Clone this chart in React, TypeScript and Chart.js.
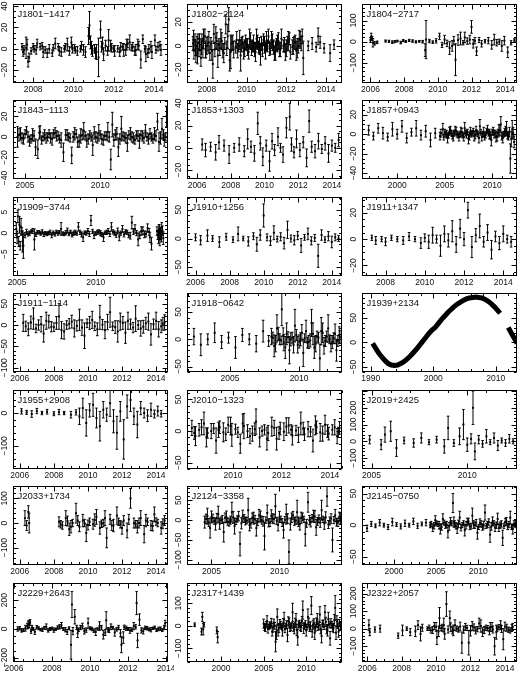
import { useEffect, useRef } from "react";
import { Chart, registerables } from "chart.js";
Chart.register(...registerables);

// ---------------- data (year, residual, error) ----------------
const J1801_t = [2007.45,2007.55,2007.65,2007.75,2007.8,2007.9,2008.05,2008.2,2008.35,2008.5,2008.6,2008.8,2008.95,2009.1,2009.25,2009.4,2009.55,2009.7,2009.8,2009.9,2010.05,2010.2,2010.35,2010.5,2010.75,2010.8,2010.85,2010.95,2011.05,2011.15,2011.25,2011.35,2011.4,2011.5,2011.6,2011.75,2011.9,2012.05,2012.2,2012.35,2012.5,2012.65,2012.8,2012.95,2013.1,2013.25,2013.35,2013.45,2013.6,2013.75,2013.9,2014.05,2014.2,2014.35];
const J1801_r = [2,-1,1,-12,-8,-2,0,5,2,-3,-1,0,-4,5,2,-3,0,4,-2,6,1,-2,0,-1,12,22,6,-2,0,-3,-8,18,2,-5,3,8,1,-2,0,2,-1,4,6,2,-1,3,-10,9,-5,0,-3,8,2,-1];
const J1801_e = [3,4,10,5,4,3,3,4,3,5,3,4,3,5,3,4,3,6,4,5,3,4,3,5,8,13,6,5,4,7,18,8,5,6,5,10,4,5,3,4,6,5,7,4,5,4,8,4,7,4,6,5,4,5];
const J1801x_t = [2007.5,2007.7,2008.0,2008.15,2008.45,2008.7,2009.0,2009.3,2009.6,2009.95,2010.1,2010.4,2010.6,2010.9,2011.1,2011.45,2011.7,2011.85,2012.0,2012.3,2012.45,2012.6,2012.7,2012.9,2013.05,2013.2,2013.55,2013.7,2013.85,2014.1,2014.3];
const J1801x_r = [-3,4,2,-1,3,-4,1,-2,2,0,-1,3,-3,1,-4,5,-2,3,0,-3,2,-1,5,1,-2,4,0,-4,2,-1,3];
const J1801x_e = [4,5,3,4,3,4,3,4,3,4,3,4,5,6,5,6,4,5,3,4,3,5,4,3,4,5,3,4,5,3,4];

const J1802_t = [2007.3,2007.35,2007.4,2007.45,2007.5,2007.55,2007.6,2007.65,2007.7,2007.75,2007.8,2007.9,2007.95,2008.0,2008.1,2008.15,2008.2,2008.3,2008.35,2008.4,2008.5,2008.55,2008.6,2008.7,2008.8,2008.9,2008.95,2009.0,2009.05,2009.1,2009.15,2009.2,2009.3,2009.45,2009.5,2009.55,2009.6,2009.7,2009.8,2009.9,2010.0,2010.1,2010.2,2010.3,2010.4,2010.5,2010.6,2010.7,2010.75,2010.85,2010.95,2011.05,2011.1,2011.2,2011.3,2011.4,2011.5,2011.6,2011.7,2011.85,2011.95,2012.05,2012.15,2012.3,2012.4,2012.5,2012.6,2012.7,2012.8,2012.85,2013.1,2013.3,2013.5,2013.6,2013.7,2013.9,2014.2,2014.4];
const J1802_r = [2,-4,5,-8,0,6,-3,1,-10,4,-2,8,-5,0,3,-6,2,-15,10,-3,4,-8,1,6,-4,2,18,-2,8,22,-12,-5,3,-1,5,-4,0,-8,3,-2,1,-5,4,0,-3,6,-1,-7,2,5,-4,0,8,-2,3,-6,1,4,-3,0,-5,2,6,-1,3,-4,0,5,8,-10,0,2,-1,8,3,-2,-6,1];
const J1802_e = [6,7,5,6,8,4,6,5,7,6,8,6,5,7,9,6,5,12,8,6,7,10,5,8,6,5,8,6,10,10,9,14,6,5,7,6,5,13,5,7,5,6,7,5,6,8,5,9,6,5,7,5,6,5,7,6,5,7,6,5,7,6,5,6,5,8,6,7,6,14,4,5,4,7,5,4,7,4];
const J1802x_t = [2007.33,2007.43,2007.53,2007.63,2007.73,2007.83,2007.93,2008.05,2008.25,2008.45,2008.65,2008.75,2008.85,2009.25,2009.35,2009.65,2009.75,2009.85,2009.95,2010.05,2010.15,2010.25,2010.35,2010.45,2010.55,2010.65,2010.8,2010.9,2011.0,2011.15,2011.25,2011.35,2011.45,2011.55,2011.65,2011.75,2011.9,2012.0,2012.1,2012.2,2012.35,2012.45,2012.55,2012.65,2012.75];
const J1802x_r = [5,-2,-6,3,-1,6,-3,2,-4,7,-2,4,-6,2,-3,5,1,-4,3,-1,6,-2,2,-5,3,0,-3,1,4,-2,5,-1,-4,2,-3,6,1,-2,4,-5,0,3,-2,6,2];
const J1802x_e = [8,6,9,7,6,8,7,6,8,9,6,7,8,6,7,8,6,7,6,7,8,6,7,8,6,7,6,7,8,6,7,6,8,7,6,8,6,7,8,6,7,6,8,7,6];

const J1804_t = [2006.0,2006.05,2006.1,2006.15,2006.25,2006.4,2006.9,2007.1,2007.3,2007.45,2007.6,2007.8,2007.95,2008.1,2008.3,2008.5,2008.7,2008.9,2009.1,2009.25,2009.3,2009.5,2009.7,2009.9,2010.1,2010.25,2010.4,2010.55,2010.7,2010.85,2010.95,2011.05,2011.2,2011.35,2011.5,2011.6,2011.75,2011.9,2012.0,2012.1,2012.2,2012.3,2012.45,2012.6,2012.8,2013.0,2013.2,2013.35,2013.5,2013.65,2013.8,2013.95,2014.15,2014.35,2014.55];
const J1804_r = [8,25,15,-5,-8,-3,3,2,-2,0,3,-4,5,1,6,3,-1,2,0,-40,10,3,-2,4,25,-15,10,-8,-30,-20,5,-85,8,15,-5,20,3,10,70,-10,5,-45,8,-10,2,5,-15,10,-5,0,-20,5,-50,-5,8];
const J1804_e = [12,15,10,20,8,6,5,5,6,5,4,6,5,4,5,6,5,4,6,30,90,8,6,10,15,12,20,15,30,25,20,75,25,30,10,25,15,20,30,20,15,20,12,15,8,15,20,25,15,12,25,20,25,10,6];

const J1843_t = [2004.5,2004.7,2004.9,2005.1,2005.3,2005.5,2005.7,2005.85,2006.0,2006.2,2006.4,2006.6,2006.8,2007.0,2007.2,2007.4,2007.55,2007.7,2007.9,2008.1,2008.3,2008.5,2008.7,2008.9,2009.1,2009.3,2009.5,2009.7,2009.9,2010.1,2010.3,2010.5,2010.7,2010.8,2010.9,2011.0,2011.2,2011.4,2011.6,2011.8,2012.0,2012.2,2012.4,2012.6,2012.8,2013.0,2013.2,2013.4,2013.6,2013.8,2013.9,2014.1,2014.25,2014.4];
const J1843_r = [0,3,-2,6,-4,2,-10,-12,5,0,-1,3,-2,4,1,-3,-15,2,0,-18,3,-5,1,6,-4,2,-8,0,4,-2,1,5,-22,12,-3,2,-10,8,0,-6,3,-1,2,-4,1,6,-2,0,3,15,-5,8,-3,20];
const J1843_e = [10,6,5,4,5,6,8,9,6,4,5,4,6,5,4,7,9,5,4,8,6,5,7,8,6,4,10,5,8,5,4,9,10,12,6,5,9,12,4,8,6,5,4,7,5,6,5,4,6,8,9,10,6,10];
const J1843x_t = [2004.6,2004.8,2005.0,2005.2,2005.4,2005.6,2005.95,2006.1,2006.3,2006.5,2006.7,2006.9,2007.1,2007.3,2007.8,2008.0,2008.2,2008.4,2008.6,2008.8,2009.0,2009.2,2009.4,2009.6,2009.8,2010.0,2010.2,2010.4,2010.6,2011.1,2011.3,2011.5,2011.7,2011.9,2012.1,2012.3,2012.5,2012.7,2012.9,2013.1,2013.3,2013.5,2013.7,2014.0,2014.2,2014.35];
const J1843x_r = [2,-1,3,0,-2,1,4,-3,2,0,-1,3,1,-2,2,-1,0,3,-4,2,1,-2,0,4,-1,2,-3,1,0,3,-2,1,-1,2,0,-3,1,2,-1,0,3,-2,1,-1,2,0];
const J1843x_e = [6,5,4,5,4,5,6,4,5,4,5,4,5,4,5,4,5,4,6,5,4,5,4,6,5,4,5,4,5,6,5,4,5,4,5,4,5,4,5,4,5,4,5,6,5,4];

const J1853_t = [2006.3,2006.5,2006.8,2007.1,2007.3,2007.6,2007.9,2008.2,2008.5,2008.8,2009.0,2009.2,2009.4,2009.6,2009.75,2009.9,2010.1,2010.3,2010.45,2010.6,2010.8,2010.95,2011.1,2011.3,2011.5,2011.6,2011.75,2011.9,2012.1,2012.3,2012.5,2012.65,2012.8,2013.0,2013.2,2013.4,2013.6,2013.8,2014.0,2014.2,2014.4];
const J1853_r = [3,-2,1,-4,5,2,-6,0,3,-3,8,1,-5,22,4,-8,2,-12,6,-2,10,0,-6,18,28,3,-4,8,-2,5,-9,24,1,-3,6,-1,4,-5,2,0,7];
const J1853_e = [5,6,4,7,6,5,8,4,6,5,9,5,7,10,6,8,5,9,7,5,8,4,7,9,12,6,5,8,6,5,8,10,5,6,7,4,6,8,5,4,6];

const J1857_t = [1997.0,1997.5,1998.0,1998.5,1999.0,1999.5,2000.0,2000.5,2001.0,2001.5,2002.0,2002.5,2003.0,2003.5,2004.0,2004.5,2004.8,2005.1,2005.3,2005.5,2005.7,2005.9,2006.1,2006.3,2006.5,2006.7,2006.9,2007.1,2007.3,2007.5,2007.7,2007.9,2008.1,2008.3,2008.5,2008.7,2008.9,2009.1,2009.3,2009.5,2009.7,2009.9,2010.1,2010.3,2010.5,2010.7,2010.9,2011.1,2011.3,2011.5,2011.7,2011.9,2012.1,2012.3];
const J1857_r = [4,-2,6,1,-3,5,0,8,-4,2,6,-1,3,-6,1,-2,5,0,-4,3,1,-2,4,0,-3,2,-1,6,0,-5,3,1,-2,4,0,8,-3,2,-1,5,0,-6,3,1,-2,4,10,-4,2,6,-2,-25,5,-8];
const J1857_e = [5,4,5,6,4,7,5,6,5,4,8,5,6,7,5,4,6,3,5,4,3,5,4,3,4,5,3,6,4,5,4,3,5,4,3,7,4,5,3,4,5,6,4,3,5,6,8,5,4,7,4,15,9,6];
const J1857x_t = [2004.6,2004.9,2005.0,2005.2,2005.4,2005.6,2005.8,2006.0,2006.2,2006.4,2006.6,2006.8,2007.0,2007.2,2007.4,2007.6,2007.8,2008.0,2008.2,2008.4,2008.6,2008.8,2009.0,2009.2,2009.4,2009.6,2009.8,2010.0,2010.2,2010.4,2010.6,2010.8,2011.0,2011.2,2011.4,2011.6,2011.8,2012.0,2012.2];
const J1857x_r = [1,-3,2,0,-1,4,-2,1,3,-1,0,2,-3,1,2,-2,0,3,-1,1,-4,2,0,-2,3,1,-1,2,0,-3,1,4,-2,0,3,-1,2,-5,1];
const J1857x_e = [4,3,3,4,3,4,3,3,4,3,3,4,4,3,3,4,3,3,4,3,5,3,3,4,3,3,4,3,4,5,4,5,4,3,5,4,5,8,6];

const J1909_t = [2004.95,2005.05,2005.1,2005.15,2005.2,2005.3,2005.4,2005.5,2005.8,2006.0,2006.1,2006.4,2006.7,2007.0,2007.2,2007.5,2007.8,2008.0,2008.2,2008.5,2008.7,2008.9,2009.2,2009.5,2009.7,2009.9,2010.2,2010.5,2010.8,2011.0,2011.2,2011.5,2011.7,2011.9,2012.1,2012.3,2012.5,2012.7,2012.9,2013.1,2013.3,2013.45,2013.55,2013.9,2014.0,2014.05,2014.1,2014.15,2014.2,2014.3];
const J1909_r = [1,4,-2,2,-3,0.5,-3,-0.5,0,0.5,-1.5,0.2,-0.3,0,-0.5,0.3,1,-0.2,0.6,-0.4,0.2,1.5,-1,0.5,3,-0.5,0.3,-1,0.5,1.5,0,-0.8,1,0.3,-0.5,2.5,1,-1.5,0.5,-0.3,1.2,-1,-2.5,0.5,-1,1,0,-0.5,1.5,-1.2];
const J1909_e = [1.5,1.5,1.2,2,1,0.8,3,0.6,0.5,0.6,2.5,0.4,0.5,0.4,0.6,0.4,1.5,0.4,0.6,0.5,0.5,1,1,0.6,1.2,0.8,0.5,1,0.6,1,0.5,1,0.8,0.5,0.6,1.5,1,1.5,1,0.8,1,1.2,1.5,1,1.5,1,1.2,1,1,1.5];
const J1909x_t = [2005.0,2005.25,2005.35,2005.6,2005.7,2005.9,2006.2,2006.3,2006.5,2006.6,2006.8,2006.9,2007.1,2007.3,2007.4,2007.6,2007.7,2007.9,2008.1,2008.3,2008.4,2008.6,2008.8,2009.0,2009.1,2009.3,2009.4,2009.6,2009.8,2010.0,2010.1,2010.3,2010.4,2010.6,2010.7,2010.9,2011.1,2011.3,2011.4,2011.6,2011.8,2012.0,2012.2,2012.4,2012.6,2012.8,2013.0,2013.2,2013.4,2013.95,2014.02,2014.08,2014.12,2014.18,2014.25];
const J1909x_r = [-1,1.5,-2,0.3,-0.2,0.4,-0.3,0.2,-0.1,0.3,0,-0.2,0.2,0.1,-0.3,0,0.2,-0.1,0.1,-0.2,0.3,0,-0.1,0.2,-0.3,0.1,0,-0.2,0.4,-0.1,0.2,0,-0.3,0.1,0.2,-0.2,0.3,-0.4,0.5,0,-0.3,0.2,-0.6,0.4,0,-0.5,0.6,-0.2,0.3,-0.5,0.8,-1.5,0.4,-0.8,0.6];
const J1909x_e = [1.5,2,2.5,0.6,0.5,0.4,0.5,0.4,0.4,0.5,0.4,0.4,0.5,0.4,0.4,0.5,0.4,0.4,0.5,0.4,0.4,0.5,0.4,0.5,0.6,0.4,0.5,0.6,0.5,0.4,0.5,0.6,0.5,0.4,0.5,0.6,0.5,0.6,0.7,0.5,0.6,0.5,0.8,0.7,0.6,0.8,0.9,0.7,0.8,1,1.2,1.5,1,1.3,1.1];

const J1910_t = [2006.0,2006.3,2006.7,2007.0,2007.4,2007.8,2008.2,2008.5,2008.8,2009.1,2009.4,2009.6,2009.8,2010.0,2010.2,2010.4,2010.6,2010.8,2011.0,2011.2,2011.4,2011.6,2011.8,2012.0,2012.2,2012.4,2012.6,2012.8,2013.0,2013.2,2013.4,2013.6,2013.8,2014.0,2014.2,2014.4];
const J1910_r = [2,-3,5,0,-6,3,-2,8,0,-5,4,-10,6,40,2,-4,10,-1,3,-8,15,0,-3,5,-12,2,8,-4,1,-30,6,-2,4,-6,2,0];
const J1910_e = [6,8,10,5,9,6,5,12,4,8,6,12,9,20,6,8,12,5,7,10,15,6,8,7,12,5,10,7,6,20,9,5,8,10,6,5];

const J1911a_t = [2007.3,2007.5,2007.8,2008.0,2008.3,2008.6,2008.9,2009.2,2009.5,2009.8,2010.0,2010.2,2010.4,2010.6,2010.8,2011.0,2011.2,2011.4,2011.6,2011.8,2012.0,2012.2,2012.4,2012.6,2012.8,2013.0,2013.2,2013.4,2013.6,2013.8,2014.0,2014.2,2014.4];
const J1911a_r = [1,-1,0,-2,1,0,-1,2,0,-3,1,-2,3,0,-5,4,-1,6,-4,8,0,22,-6,3,10,-2,5,-8,2,-3,4,0,-2];
const J1911a_e = [2,3,2,3,2,2,3,3,2,4,3,5,6,3,8,6,5,8,6,7,5,6,8,5,9,4,6,7,4,5,6,3,4];

const J1911b_t = [2006.2,2006.5,2006.8,2007.1,2007.4,2007.7,2008.0,2008.3,2008.6,2008.9,2009.2,2009.5,2009.8,2010.1,2010.4,2010.7,2011.0,2011.3,2011.6,2011.9,2012.2,2012.5,2012.8,2013.1,2013.4,2013.7,2014.0,2014.3,2014.5];
const J1911b_r = [5,-10,15,0,-20,8,-5,20,-15,3,-8,12,-25,5,-3,18,-12,30,-5,8,-18,2,15,-8,4,-22,10,-3,6];
const J1911b_e = [20,15,25,12,20,15,10,30,18,12,20,25,30,15,10,28,20,35,15,20,25,12,30,18,14,25,20,15,18];
const J1911bx_t = [2006.35,2006.65,2006.95,2007.25,2007.55,2007.85,2008.15,2008.45,2008.75,2009.05,2009.35,2009.65,2009.95,2010.25,2010.55,2010.85,2011.15,2011.45,2011.75,2012.05,2012.35,2012.65,2012.95,2013.25,2013.55,2013.85,2014.15,2014.4];
const J1911bx_r = [-3,6,-8,2,10,-4,5,-12,0,8,-2,-6,4,12,-10,1,7,-3,-15,5,10,-6,0,-4,8,2,-10,3];
const J1911bx_e = [12,15,10,18,20,12,15,20,10,15,12,18,10,20,15,12,18,10,25,15,20,12,10,15,20,12,18,15];

const J1918_t = [2002.4,2002.9,2003.4,2003.9,2004.4,2004.9,2005.4,2005.9,2006.4,2006.9,2007.4,2007.8,2008.0,2008.2,2008.4,2008.6,2008.75,2008.9,2009.1,2009.3,2009.5,2009.7,2009.9,2010.1,2010.3,2010.5,2010.7,2010.9,2011.1,2011.3,2011.5,2011.7,2011.9,2012.1,2012.3,2012.5,2012.7,2012.9];
const J1918_r = [5,-10,0,12,-5,3,-15,8,0,-8,15,-3,5,-12,20,0,55,-6,10,-20,3,25,-10,0,-25,15,-5,30,-15,5,-35,12,-3,20,-8,2,-20,8];
const J1918_e = [15,20,10,18,12,10,20,12,10,15,20,10,15,20,25,10,30,15,20,25,10,30,15,12,25,20,12,25,20,10,25,18,10,25,15,10,20,15];
const J1918x_t = [2008.1,2008.3,2008.5,2008.7,2008.85,2009.0,2009.2,2009.4,2009.6,2009.8,2010.0,2010.2,2010.4,2010.6,2010.8,2011.0,2011.2,2011.4,2011.6,2011.8,2012.0,2012.2,2012.4,2012.6,2012.8,2012.95];
const J1918x_r = [3,-8,10,-2,6,-15,4,0,-10,8,-4,12,2,-6,-2,10,-8,3,15,-12,5,0,-5,10,-3,4];
const J1918x_e = [10,15,12,8,15,20,10,12,15,10,12,15,8,10,12,20,15,10,25,15,10,8,12,18,10,12];

const J1939_t = [1990.3,1990.8,1991.3,1991.8,1992.3,1992.8,1993.3,1993.8,1994.3,1994.8,1995.3,1995.8,1996.3,1996.8,1997.3,1997.8,1998.3,1998.8,1999.3,1999.8,2000.3,2000.8,2001.3,2001.8,2002.3,2002.8,2003.3,2003.8,2004.3,2004.8,2005.3,2005.8,2006.3,2006.8,2007.3,2007.8,2008.3,2008.8,2009.3,2009.8,2010.3,2010.7,2011.5,2012.0,2012.4,2012.8,2013.2,2013.4];
const J1939_r = [-2,-12,-22,-30,-37,-43,-46,-47,-46,-43,-39,-34,-28,-21,-14,-6,2,10,18,25,30,38,46,53,60,66,72,77,81,85,88,90,91,92,91,90,87,83,78,72,65,59,null,30,21,12,3,-2];
const J1939_e = [1,1,1,1,1,1,1,1,1,1,1,1,1,1,1,1,1,1,1,1,1,1,1,1,1,1,1,1,1,1,1,1,1,1,1,1,1,1,1,1,1,1,0,1,1,1,1,1];

const J1955_t = [2006.1,2006.4,2006.7,2007.0,2007.3,2007.6,2008.0,2008.3,2008.6,2009.0,2009.3,2009.5,2009.7,2009.9,2010.1,2010.3,2010.5,2010.7,2010.9,2011.1,2011.3,2011.5,2011.7,2011.9,2012.1,2012.3,2012.5,2012.7,2012.9,2013.1,2013.3,2013.5,2013.7,2013.9,2014.1,2014.3];
const J1955_r = [5,2,-3,6,0,4,-2,3,0,-5,2,-10,15,-30,8,25,-15,-40,10,-5,30,-25,-60,5,-80,20,40,-10,-35,15,0,-8,10,-3,6,-2];
const J1955_e = [8,6,10,8,5,7,6,8,5,10,8,25,30,40,20,35,30,45,25,20,40,35,50,30,60,35,35,25,40,20,15,18,20,12,15,10];

const J2010_t = [2008.3,2008.45,2008.6,2008.8,2008.95,2009.1,2009.3,2009.45,2009.6,2009.8,2009.95,2010.1,2010.3,2010.45,2010.6,2010.8,2010.95,2011.1,2011.3,2011.45,2011.6,2011.8,2011.95,2012.1,2012.3,2012.45,2012.6,2012.8,2012.95,2013.1,2013.3,2013.45,2013.6,2013.8,2013.95,2014.1,2014.3,2014.4];
const J2010_r = [5,-8,2,12,-3,0,-15,6,-2,10,-6,3,-20,8,0,-4,15,-10,2,-3,7,-12,4,-1,9,-7,1,12,-5,3,-15,6,-2,10,-4,2,-8,5];
const J2010_e = [12,15,10,18,8,12,20,10,15,12,18,8,15,20,10,12,20,15,8,12,15,18,10,14,12,15,8,18,10,12,18,10,14,15,10,8,12,10];
const J2010x_t = [2008.4,2008.7,2008.9,2009.2,2009.4,2009.7,2009.9,2010.2,2010.4,2010.7,2010.9,2011.2,2011.4,2011.7,2011.9,2012.2,2012.4,2012.7,2012.9,2013.2,2013.4,2013.7,2013.9,2014.2,2014.35];
const J2010x_r = [-3,6,-10,4,2,-5,8,-2,12,-8,3,0,-12,5,-3,7,2,-6,4,-1,9,-4,0,6,-2];
const J2010x_e = [10,12,15,8,12,10,14,8,15,12,10,8,18,12,10,14,8,12,10,8,15,12,10,12,8];

const J2019_t = [2004.9,2005.5,2005.7,2006.0,2006.3,2006.7,2007.2,2007.6,2008.0,2008.4,2008.8,2009.0,2009.3,2009.6,2009.8,2010.0,2010.2,2010.3,2010.4,2010.6,2010.8,2011.0,2011.2,2011.4,2011.6,2011.8,2012.0,2012.2,2012.4];
const J2019_r = [10,-20,40,60,-40,5,-10,20,-5,10,-30,80,-10,30,100,-20,15,200,-60,10,-15,30,-5,20,-25,5,-10,15,0];
const J2019_e = [25,30,45,60,50,20,25,30,15,20,40,70,20,50,90,40,30,100,50,25,20,40,15,30,30,15,20,25,15];

const J2033_t = [2006.3,2006.4,2006.5,2006.55,2008.3,2008.5,2008.7,2008.9,2009.1,2009.3,2009.5,2009.7,2009.9,2010.1,2010.3,2010.5,2010.7,2010.9,2011.1,2011.3,2011.5,2011.7,2011.9,2012.1,2012.3,2012.5,2012.7,2012.9,2013.1,2013.3,2013.5,2013.7,2013.9,2014.1,2014.3,2014.5];
const J2033_r = [20,-10,45,0,5,-10,20,-25,0,40,-15,10,-40,5,-5,25,-20,0,-60,15,-10,30,-5,10,-30,100,0,-15,20,-45,5,-10,35,0,-20,10];
const J2033_e = [30,20,25,40,20,15,30,25,15,40,20,25,35,15,20,30,25,15,40,20,25,35,15,20,30,40,20,25,30,35,15,20,30,15,25,20];
const J2033x_t = [2008.4,2008.8,2009.0,2009.4,2009.8,2010.0,2010.4,2010.8,2011.0,2011.4,2011.8,2012.0,2012.4,2012.8,2013.0,2013.4,2013.8,2014.0,2014.4];
const J2033x_r = [-5,8,-15,10,0,-8,12,-3,20,-10,5,-20,15,-5,0,10,-12,6,-3];
const J2033x_e = [15,20,25,20,15,20,25,15,30,20,15,25,20,15,20,25,20,15,20];

const J2124_t = [2004.5,2004.7,2004.9,2005.1,2005.3,2005.5,2005.7,2005.9,2006.1,2006.3,2006.5,2006.7,2006.9,2007.1,2007.3,2007.5,2007.7,2007.9,2008.1,2008.3,2008.5,2008.7,2008.9,2009.1,2009.3,2009.5,2009.7,2009.9,2010.1,2010.3,2010.5,2010.7,2010.9,2011.1,2011.3,2011.5,2011.7,2011.9,2012.1,2012.3,2012.5,2012.7,2012.9,2013.1,2013.3,2013.5,2013.7,2013.9,2014.1,2014.3,2014.5];
const J2124_r = [-5,10,-20,5,-10,15,0,-30,8,-5,20,-15,3,-60,10,-2,25,-8,5,-20,12,0,-40,18,-6,4,35,-12,2,-25,15,-80,6,-3,20,-10,8,-35,45,-5,10,-18,3,25,-8,60,-2,-50,12,-6,4];
const J2124_e = [15,20,25,10,15,20,8,25,15,10,25,20,8,30,15,10,30,12,15,20,15,10,35,20,10,12,30,15,8,20,25,30,12,10,30,15,10,30,25,12,15,20,10,25,15,25,10,30,15,10,12];
const J2124x_t = [2004.6,2004.8,2005.0,2005.2,2005.4,2005.6,2005.8,2006.0,2006.2,2006.4,2006.6,2006.8,2007.0,2007.2,2007.4,2007.6,2007.8,2008.0,2008.2,2008.4,2008.6,2008.8,2009.0,2009.2,2009.4,2009.6,2009.8,2010.0,2010.2,2010.4,2010.6,2010.8,2011.0,2011.2,2011.4,2011.6,2011.8,2012.0,2012.2,2012.4,2012.6,2012.8,2013.0,2013.2,2013.4,2013.6,2013.8,2014.0,2014.2,2014.4];
const J2124x_r = [3,-6,8,-2,5,-9,2,6,-4,0,7,-3,10,-8,4,-1,-12,6,2,-5,9,-3,0,-7,11,3,-2,8,-6,1,4,-10,12,-1,-4,6,2,-8,0,5,9,-3,-6,2,7,-11,4,0,-5,8];
const J2124x_e = [12,10,15,8,12,14,10,12,9,10,15,8,12,14,10,8,15,12,10,9,14,12,8,10,15,12,9,14,10,8,12,15,10,9,12,14,8,10,12,9,15,10,12,8,14,10,12,9,10,12];

const J2145_t = [1996.8,1997.3,1997.8,1998.3,1998.8,1999.3,1999.8,2000.3,2000.8,2001.3,2001.8,2002.3,2002.8,2003.3,2003.8,2004.3,2004.6,2004.9,2005.2,2005.5,2005.8,2006.1,2006.4,2006.7,2007.0,2007.2,2007.5,2007.8,2008.1,2008.4,2008.7,2009.0,2009.3,2009.6,2009.9,2010.2,2010.5,2010.8,2011.1,2011.4,2011.7,2012.0,2012.3,2012.6,2012.9,2013.2,2013.5,2013.8,2014.1,2014.4];
const J2145_r = [-5,2,-1,4,0,-3,5,1,-2,3,0,6,-1,2,4,0,-4,8,2,-6,10,0,-10,6,35,2,-5,12,0,-8,5,-2,15,0,-12,4,-3,20,1,-15,6,-4,10,0,-20,5,-2,12,-6,3];
const J2145_e = [5,4,3,5,3,4,6,3,4,5,3,5,4,3,5,4,6,7,4,8,8,5,10,6,15,5,8,10,4,9,6,5,12,5,10,6,5,12,5,12,7,6,9,5,12,6,5,10,8,5];
const J2145x_t = [2004.4,2004.75,2005.0,2005.35,2005.65,2005.95,2006.25,2006.55,2006.85,2007.1,2007.35,2007.65,2007.95,2008.25,2008.55,2008.85,2009.15,2009.45,2009.75,2010.05,2010.35,2010.65,2010.95,2011.25,2011.55,2011.85,2012.15,2012.45,2012.75,2013.05,2013.35,2013.65,2013.95,2014.25,2014.5];
const J2145x_r = [2,-1,3,0,-3,4,1,-2,3,5,-1,2,-4,3,0,6,-2,1,4,-3,2,0,-1,5,-2,3,0,-4,2,-1,6,1,-3,2,0];
const J2145x_e = [4,5,4,6,5,4,5,6,4,8,5,6,5,4,6,5,4,6,5,4,5,6,4,5,6,4,5,6,5,4,6,5,4,5,4];

const J2229_t = [2006.2,2006.4,2006.6,2006.75,2006.85,2006.95,2007.1,2007.3,2007.5,2007.7,2007.9,2008.1,2008.3,2008.5,2008.7,2008.9,2009.0,2009.05,2009.2,2009.35,2009.5,2009.7,2009.9,2010.1,2010.3,2010.5,2010.7,2010.85,2010.95,2011.1,2011.3,2011.5,2011.65,2011.75,2011.9,2012.1,2012.3,2012.45,2012.5,2012.6,2012.8,2013.0,2013.2,2013.4,2013.6,2013.8,2013.95];
const J2229_r = [0,-10,5,30,45,10,-20,5,-5,15,0,-8,10,25,-5,5,-110,170,85,-30,10,-15,40,0,-20,20,-40,60,-5,15,-25,10,-110,-60,5,-10,20,180,-80,65,-15,5,-5,10,0,-8,40];
const J2229_e = [15,12,20,25,20,15,18,10,12,20,10,15,12,20,15,10,100,90,50,30,15,20,35,12,25,30,30,60,15,20,25,15,55,40,15,20,25,80,50,40,20,12,15,10,12,10,20];
const J2229x_t = [2006.3,2006.5,2006.7,2006.8,2006.9,2007.0,2007.2,2007.4,2007.6,2007.8,2008.0,2008.2,2008.4,2008.6,2008.8,2009.1,2009.3,2009.4,2009.6,2009.8,2010.0,2010.2,2010.4,2010.6,2010.8,2011.0,2011.2,2011.4,2011.6,2011.8,2012.0,2012.2,2012.4,2012.7,2012.9,2013.1,2013.3,2013.5,2013.7,2013.9];
const J2229x_r = [5,-8,20,35,-15,0,12,-5,8,-10,3,-2,15,0,-20,-15,10,-5,20,-8,5,-12,0,10,-25,-10,8,-3,-30,12,0,-5,15,-10,8,-3,5,-8,2,10];
const J2229x_e = [12,10,20,25,15,10,12,8,10,12,10,8,15,10,18,25,15,12,20,15,10,12,8,15,20,15,10,12,25,15,10,12,15,18,12,10,8,10,12,15];

const J2317_t = [1996.9,1997.7,1997.8,1997.9,1998.0,1999.5,1999.6,2005.0,2005.2,2005.4,2005.6,2005.8,2006.0,2006.2,2006.4,2006.5,2006.6,2006.8,2007.0,2007.2,2007.4,2007.6,2007.8,2008.0,2008.2,2008.4,2008.6,2008.8,2009.0,2009.2,2009.4,2009.6,2009.8,2010.0,2010.2,2010.4,2010.6,2010.8,2011.0,2011.2,2011.4,2011.6,2011.8,2012.0,2012.2,2012.4,2012.6,2012.8,2013.0,2013.2,2013.4,2013.6,2013.8,2014.0];
const J2317_r = [5,-25,40,-15,5,-20,-50,10,-10,20,-5,0,-25,15,-70,-30,40,-10,5,-20,30,0,-40,15,-5,60,-15,25,-50,10,-5,70,0,-20,40,-10,90,5,-30,15,-5,50,-45,10,60,-15,30,-55,5,-10,80,20,-25,0];
const J2317_e = [8,15,20,25,10,15,25,20,15,25,12,10,20,15,45,30,35,20,15,25,30,12,30,20,15,40,20,30,35,15,20,40,15,25,35,15,40,20,30,20,15,35,30,15,30,20,30,30,15,20,55,25,25,15];
const J2317x_t = [2005.1,2005.3,2005.5,2005.7,2005.9,2006.1,2006.3,2006.7,2006.9,2007.1,2007.3,2007.5,2007.7,2007.9,2008.1,2008.3,2008.5,2008.7,2008.9,2009.1,2009.3,2009.5,2009.7,2009.9,2010.1,2010.3,2010.5,2010.7,2010.9,2011.1,2011.3,2011.5,2011.7,2011.9,2012.1,2012.3,2012.5,2012.7,2012.9,2013.1,2013.3,2013.5,2013.7,2013.9,2014.1];
const J2317x_r = [-5,8,-12,3,15,-8,0,-20,10,-3,12,-15,5,20,-10,2,-6,14,-18,6,-2,22,-12,8,-5,15,0,-25,12,-8,30,3,-15,10,-4,18,-20,6,12,-6,25,-30,8,14,-5];
const J2317x_e = [15,12,20,15,18,20,15,25,18,12,20,15,18,20,15,12,18,20,25,15,18,20,22,15,12,20,18,25,20,15,25,18,20,15,12,20,25,15,20,18,25,30,20,15,12];

const J2322_t = [2006.1,2006.15,2006.45,2006.75,2007.8,2008.05,2008.3,2008.5,2008.8,2008.95,2009.1,2009.2,2009.5,2009.7,2009.9,2010.05,2010.2,2010.35,2010.5,2010.6,2010.8,2010.95,2011.1,2011.3,2011.5,2011.7,2011.9,2012.1,2012.3,2012.5,2012.7,2012.9,2013.1,2013.25,2013.4,2013.55,2013.75,2013.9,2014.1,2014.3,2014.45];
const J2322_r = [20,-20,-5,0,-40,-10,0,-20,-15,20,-30,5,0,-10,15,-50,60,5,-30,140,60,-10,20,-5,-80,10,-80,15,-10,30,-20,5,-15,10,-100,0,20,-60,5,-10,10];
const J2322_e = [30,20,15,20,15,30,10,20,30,25,40,20,10,15,20,40,60,20,30,70,40,20,30,15,60,20,70,25,20,30,25,15,20,25,50,15,25,60,20,15,20];
const J2322x_t = [2009.6,2009.8,2010.0,2010.15,2010.3,2010.45,2010.7,2010.85,2011.0,2011.2,2011.4,2011.6,2011.8,2012.0,2012.2,2012.4,2012.6,2012.8,2013.0,2013.15,2013.3,2013.5,2013.65,2013.8,2014.0,2014.2,2014.4];
const J2322x_r = [5,-8,10,-15,3,20,-5,8,-10,0,12,-6,4,-12,7,-3,15,-8,2,10,-5,-20,8,-2,12,-6,4];
const J2322x_e = [15,20,25,30,15,40,20,25,30,15,25,20,15,30,20,15,35,20,15,25,20,40,15,20,25,15,20];

// ---------------- tick labels ----------------
const XT_08_14 = [2008, 2010, 2012, 2014];
const XT_06_14 = [2006, 2008, 2010, 2012, 2014];
const XT_05_10 = [2005, 2010];
const XT_00_10 = [2000, 2005, 2010];
const XT_10_14 = [2010, 2012, 2014];
const XT_1990 = [1990, 2000, 2010];

const YT_20_40 = [-20, 0, 20, 40];
const YT_20 = [-20, 0, 20];
const YT_100 = [-100, 0, 100];
const YT_40_20 = [-40, -20, 0, 20];
const YT_5 = [-5, 0, 5];
const YT_50 = [-50, 0, 50];
const YT_100_50 = [-100, -50, 0, 50];
const YT_100_0 = [-100, 0];
const YT_100_200 = [-100, 0, 100, 200];
const YT_200 = [-200, 0, 200];

type Panel = {
  name: string; t: number[]; r: (number | null)[]; e: number[];
  x0: number; x1: number; y0: number; y1: number; xt: number[]; yt: number[]; curve?: boolean;
};

const panels: Panel[] = [
  { name: "J1801\u22121417", t: [...J1801_t, ...J1801x_t], r: [...J1801_r, ...J1801x_r], e: [...J1801_e, ...J1801x_e], x0: 2007.0, x1: 2014.7, y0: -32, y1: 42, xt: XT_08_14, yt: YT_20_40 },
  { name: "J1802\u22122124", t: [...J1802_t, ...J1802x_t], r: [...J1802_r, ...J1802x_r], e: [...J1802_e, ...J1802x_e], x0: 2007.0, x1: 2014.8, y0: -31, y1: 35, xt: XT_08_14, yt: YT_20 },
  { name: "J1804\u22122717", t: J1804_t, r: J1804_r, e: J1804_e, x0: 2005.5, x1: 2014.7, y0: -195, y1: 178, xt: XT_06_14, yt: YT_100 },
  { name: "J1843\u22121113", t: [...J1843_t, ...J1843x_t], r: [...J1843_r, ...J1843x_r], e: [...J1843_e, ...J1843x_e], x0: 2004.2, x1: 2014.5, y0: -41, y1: 36, xt: XT_05_10, yt: YT_40_20 },
  { name: "J1853+1303", t: J1853_t, r: J1853_r, e: J1853_e, x0: 2005.4, x1: 2014.6, y0: -28, y1: 43, xt: XT_06_14, yt: YT_20_40 },
  { name: "J1857+0943", t: [...J1857_t, ...J1857x_t], r: [...J1857_r, ...J1857x_r], e: [...J1857_e, ...J1857x_e], x0: 1996.3, x1: 2012.6, y0: -46, y1: 35, xt: XT_00_10, yt: YT_40_20 },
  { name: "J1909\u22123744", t: [...J1909_t, ...J1909x_t], r: [...J1909_r, ...J1909x_r], e: [...J1909_e, ...J1909x_e], x0: 2004.74, x1: 2014.6, y0: -10.2, y1: 8.6, xt: XT_05_10, yt: YT_5 },
  { name: "J1910+1256", t: J1910_t, r: J1910_r, e: J1910_e, x0: 2005.5, x1: 2014.6, y0: -65, y1: 72, xt: XT_06_14, yt: YT_50 },
  { name: "J1911+1347", t: J1911a_t, r: J1911a_r, e: J1911a_e, x0: 2006.8, x1: 2014.7, y0: -28, y1: 32, xt: XT_08_14, yt: YT_20 },
  { name: "J1911\u22121114", t: [...J1911b_t, ...J1911bx_t], r: [...J1911b_r, ...J1911bx_r], e: [...J1911b_e, ...J1911bx_e], x0: 2005.6, x1: 2014.7, y0: -110, y1: 75, xt: XT_06_14, yt: YT_100_50 },
  { name: "J1918\u22120642", t: [...J1918_t, ...J1918x_t], r: [...J1918_r, ...J1918x_r], e: [...J1918_e, ...J1918x_e], x0: 2001.9, x1: 2013.1, y0: -60, y1: 85, xt: XT_05_10, yt: YT_50 },
  { name: "J1939+2134", t: J1939_t, r: J1939_r, e: J1939_e, x0: 1988.6, x1: 2013.4, y0: -60, y1: 100, xt: XT_1990, yt: YT_50, curve: true },
  { name: "J1955+2908", t: J1955_t, r: J1955_r, e: J1955_e, x0: 2005.6, x1: 2014.7, y0: -170, y1: 70, xt: XT_06_14, yt: YT_100_0 },
  { name: "J2010\u22121323", t: [...J2010_t, ...J2010x_t], r: [...J2010_r, ...J2010x_r], e: [...J2010_e, ...J2010x_e], x0: 2008.1, x1: 2014.5, y0: -60, y1: 65, xt: XT_10_14, yt: YT_50 },
  { name: "J2019+2425", t: J2019_t, r: J2019_r, e: J2019_e, x0: 2004.5, x1: 2012.6, y0: -165, y1: 306, xt: XT_05_10, yt: YT_100_200 },
  { name: "J2033+1734", t: [...J2033_t, ...J2033x_t], r: [...J2033_r, ...J2033x_r], e: [...J2033_e, ...J2033x_e], x0: 2005.6, x1: 2014.7, y0: -170, y1: 150, xt: XT_06_14, yt: YT_100 },
  { name: "J2124\u22123358", t: [...J2124_t, ...J2124x_t], r: [...J2124_r, ...J2124x_r], e: [...J2124_e, ...J2124x_e], x0: 2003.2, x1: 2014.6, y0: -113, y1: 86, xt: XT_05_10, yt: YT_100_50 },
  { name: "J2145\u22120750", t: [...J2145_t, ...J2145x_t], r: [...J2145_r, ...J2145x_r], e: [...J2145_e, ...J2145x_e], x0: 1996.2, x1: 2014.6, y0: -63, y1: 62, xt: XT_00_10, yt: YT_50 },
  { name: "J2229+2643", t: [...J2229_t, ...J2229x_t], r: [...J2229_r, ...J2229x_r], e: [...J2229_e, ...J2229x_e], x0: 2005.95, x1: 2014.1, y0: -230, y1: 320, xt: XT_06_14, yt: YT_200 },
  { name: "J2317+1439", t: [...J2317_t, ...J2317x_t], r: [...J2317_r, ...J2317x_r], e: [...J2317_e, ...J2317x_e], x0: 1996.0, x1: 2014.2, y0: -160, y1: 190, xt: XT_00_10, yt: YT_100 },
  { name: "J2322+2057", t: [...J2322_t, ...J2322x_t], r: [...J2322_r, ...J2322x_r], e: [...J2322_e, ...J2322x_e], x0: 2005.7, x1: 2014.7, y0: -190, y1: 260, xt: XT_06_14, yt: YT_100_200 },
];

const FONT = "'Liberation Sans', Arial, sans-serif";
const CW = 174, CH = 96;
const COL_LEFT = [0, 174, 349];
const ROW_TOP = [0, 96, 193, 289, 386, 482, 579];

function subdiv(step: number) {
  const p = Math.pow(10, Math.floor(Math.log10(step) + 1e-9));
  const lead = Math.round(step / p);
  return lead === 2 ? 4 : 5;
}
const fmt = (v: number) => (v < 0 ? "\u2212" + String(-v) : String(v));

function makeDeco(p: Panel) {
  return {
    id: "deco",
    beforeDatasetsDraw(chart: any) {
      if (p.curve) return;
      const { ctx, chartArea: a, scales } = chart;
      const xs = scales.x, ys = scales.y;
      ctx.save();
      ctx.beginPath();
      ctx.rect(a.left, a.top, a.right - a.left, a.bottom - a.top);
      ctx.clip();
      ctx.strokeStyle = "#000";
      ctx.lineWidth = 1;
      ctx.beginPath();
      for (let i = 0; i < p.t.length; i++) {
        const r = p.r[i];
        if (r === null || !p.e[i]) continue;
        const px = xs.getPixelForValue(p.t[i]);
        const ya = ys.getPixelForValue(r - p.e[i]);
        const yb = ys.getPixelForValue(r + p.e[i]);
        ctx.moveTo(px, ya); ctx.lineTo(px, yb);
        ctx.moveTo(px - 1.3, ya); ctx.lineTo(px + 1.3, ya);
        ctx.moveTo(px - 1.3, yb); ctx.lineTo(px + 1.3, yb);
      }
      ctx.stroke();
      ctx.restore();
    },
    afterDraw(chart: any) {
      const { ctx, chartArea: a, scales } = chart;
      const xs = scales.x, ys = scales.y;
      const L = Math.round(a.left) + 0.5, R = Math.round(a.right) - 0.5;
      const T = Math.round(a.top) + 0.5, B = Math.round(a.bottom) - 0.5;
      ctx.save();
      ctx.strokeStyle = "#000";
      ctx.lineWidth = 1;
      ctx.strokeRect(L, T, R - L, B - T);
      ctx.beginPath();
      const xstep = p.xt[1] - p.xt[0];
      const xm = xstep / subdiv(xstep);
      for (let v = Math.ceil(p.x0 / xm) * xm; v <= p.x1 + 1e-9; v += xm) {
        const major = Math.abs(v / xstep - Math.round(v / xstep)) < 1e-6;
        const len = major ? 5 : 2.5;
        const px = Math.round(xs.getPixelForValue(v)) + 0.5;
        ctx.moveTo(px, B); ctx.lineTo(px, B - len);
        ctx.moveTo(px, T); ctx.lineTo(px, T + len);
      }
      const ystep = p.yt[1] - p.yt[0];
      const ym = ystep / subdiv(ystep);
      for (let v = Math.ceil(p.y0 / ym) * ym; v <= p.y1 + 1e-9; v += ym) {
        const major = Math.abs(v / ystep - Math.round(v / ystep)) < 1e-6;
        const len = major ? 5 : 2.5;
        const py = Math.round(ys.getPixelForValue(v)) + 0.5;
        ctx.moveTo(L, py); ctx.lineTo(L + len, py);
        ctx.moveTo(R, py); ctx.lineTo(R - len, py);
      }
      ctx.stroke();
      ctx.fillStyle = "#111";
      ctx.font = `8.5px ${FONT}`;
      ctx.textAlign = "center";
      ctx.textBaseline = "middle";
      for (const v of p.xt) {
        if (v < p.x0 || v > p.x1) continue;
        ctx.fillText(fmt(v), xs.getPixelForValue(v), a.bottom + 7);
      }
      for (const v of p.yt) {
        if (v < p.y0 || v > p.y1) continue;
        ctx.save();
        ctx.translate(a.left - 8, ys.getPixelForValue(v));
        ctx.rotate(-Math.PI / 2);
        ctx.fillText(fmt(v), 0, 0);
        ctx.restore();
      }
      ctx.font = `9.5px ${FONT}`;
      ctx.textAlign = "left";
      ctx.fillText(p.name, a.left + 4.5, a.top + 10.5);
      ctx.restore();
    },
  };
}

function PanelChart({ p, left, top }: { p: Panel; left: number; top: number }) {
  const ref = useRef<HTMLCanvasElement>(null);
  useEffect(() => {
    if (!ref.current) return;
    const pts = p.t.map((x, i) => ({ x, y: p.r[i] }));
    const chart = new Chart(ref.current, {
      type: "scatter",
      data: {
        datasets: [
          {
            data: pts as any,
            pointStyle: "rect",
            pointRadius: p.curve ? 0 : 1.4,
            backgroundColor: "#000",
            borderColor: "#000",
            borderWidth: p.curve ? 5 : 0,
            showLine: !!p.curve,
            spanGaps: false,
          } as any,
        ],
      },
      options: {
        responsive: false,
        animation: false,
        devicePixelRatio: 1,
        events: [],
        layout: { padding: { left: 13, right: 6, top: 4, bottom: 13 } },
        plugins: { legend: { display: false }, tooltip: { enabled: false } },
        scales: {
          x: { type: "linear", min: p.x0, max: p.x1, display: false },
          y: { type: "linear", min: p.y0, max: p.y1, display: false },
        },
      },
      plugins: [makeDeco(p)],
    });
    return () => chart.destroy();
  }, [p]);
  return (
    <canvas
      ref={ref}
      width={CW}
      height={CH}
      style={{ position: "absolute", left, top, width: CW, height: CH }}
    />
  );
}

export default function App() {
  return (
    <div style={{ position: "absolute", left: 0, top: 0, width: 520, height: 675, background: "#fff", overflow: "hidden" }}>
      {panels.map((p, i) => (
        <PanelChart key={p.name} p={p} left={COL_LEFT[i % 3]} top={ROW_TOP[Math.floor(i / 3)]} />
      ))}
    </div>
  );
}
